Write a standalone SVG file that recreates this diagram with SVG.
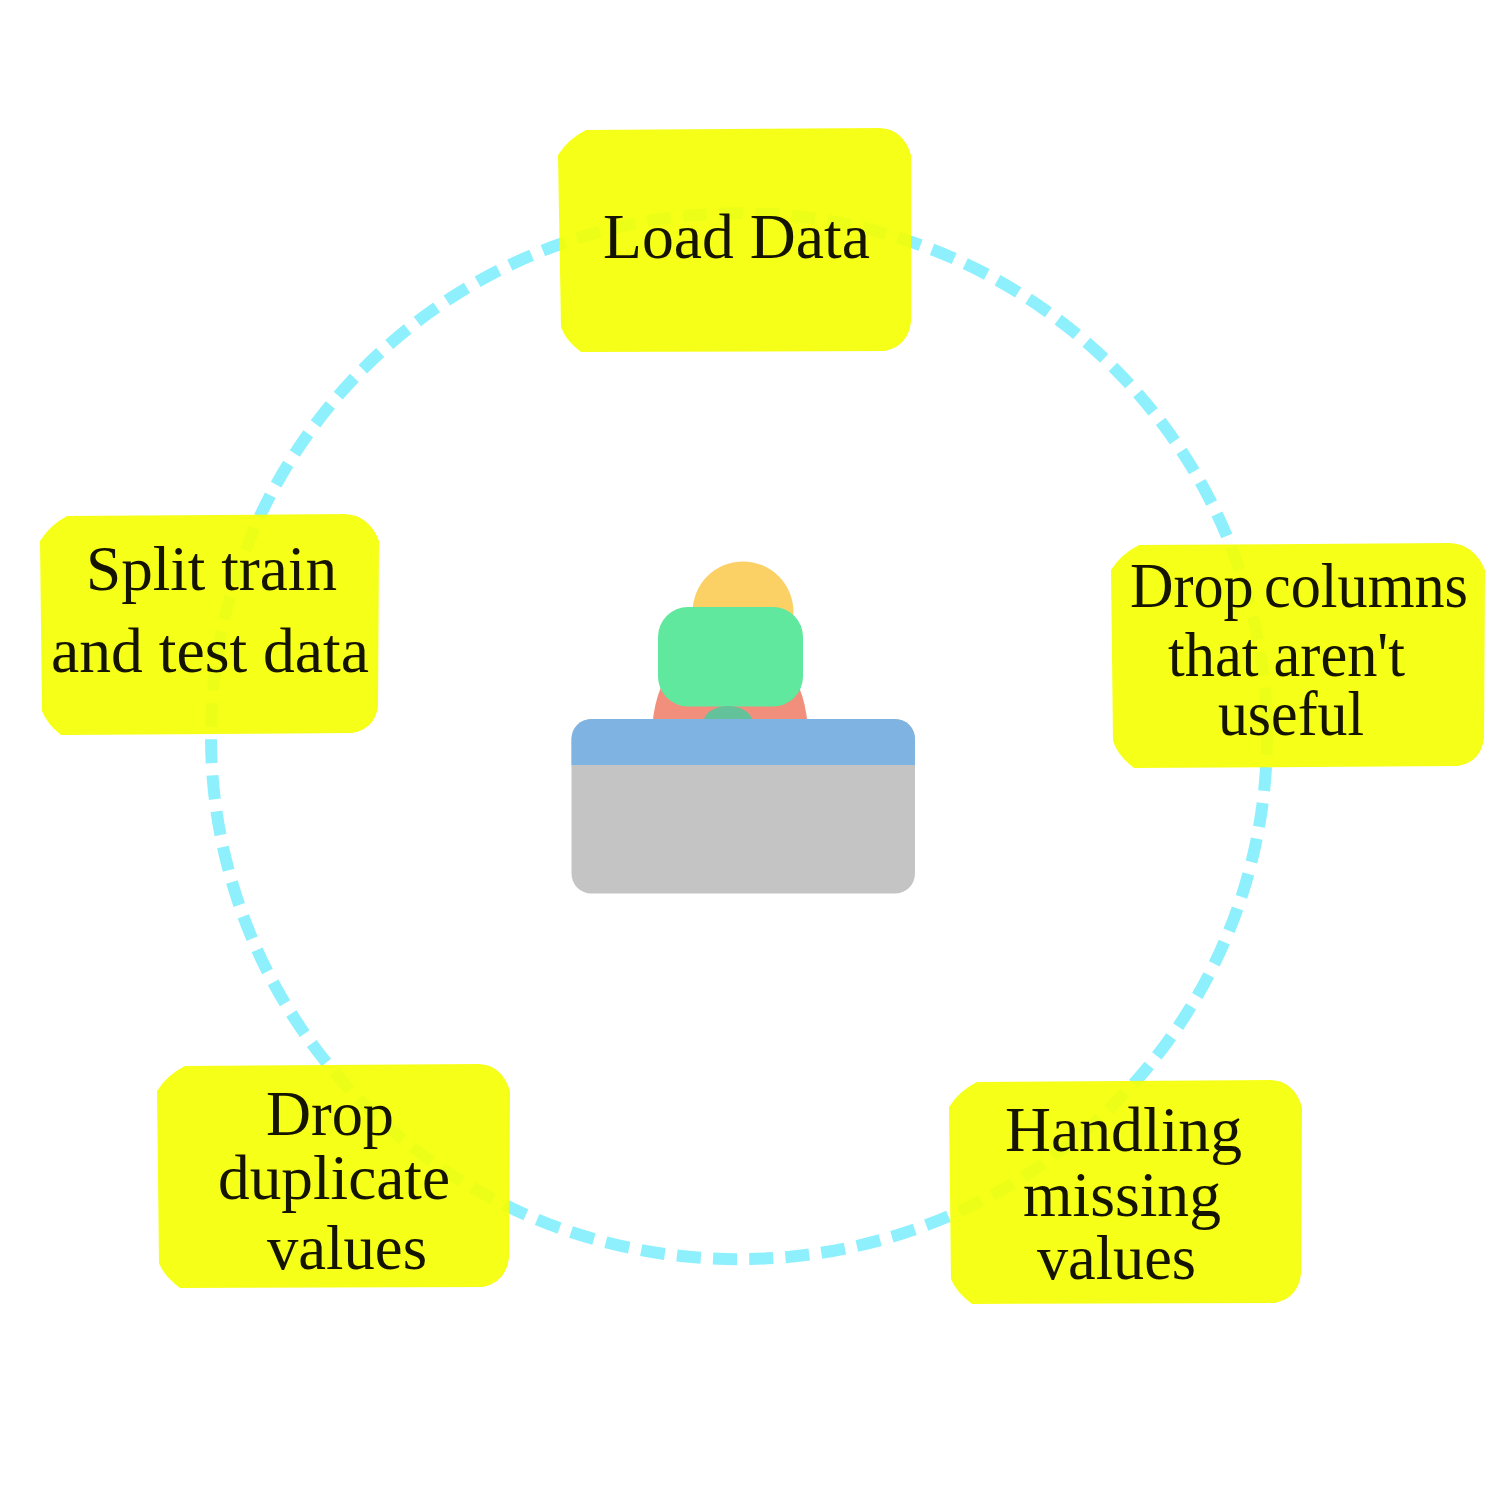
<svg xmlns="http://www.w3.org/2000/svg" width="1500" height="1500" viewBox="0 0 1500 1500">
<style>
.box{fill:#f5ff00;fill-opacity:.91}
text{font-family:"Liberation Serif","Times New Roman",serif;font-size:64px;fill:#141400}
.ring{fill:none;stroke:#8ef0fd;stroke-width:12}
#ring{stroke-dasharray:24 12.2}
</style>
<rect width="1500" height="1500" fill="#fff"/>
<g id="connectors">
<path id="ring" class="ring" d="M1266.07 767A528 523 0 1 1 1265.1 692"/>
<path class="ring" d="M1265.1 692A528 523 0 0 1 1266.65 755"/>
</g>
<g id="center">
<circle cx="743" cy="612" r="50.500" fill="#fbd065"/>
<ellipse cx="730" cy="735" rx="78" ry="103" fill="#f28f7c"/>
<rect x="658" y="607" width="145" height="99.500" rx="30" fill="#5fe89e"/>
<ellipse cx="728" cy="722" rx="24.500" ry="16" fill="#64c29a"/>
<rect x="571.500" y="719" width="343.500" height="174.500" rx="20" fill="#c4c4c4"/>
<path d="M571.500 765V739a20 20 0 0 1 20-20H895a20 20 0 0 1 20 20V765Z" fill="#7fb4e2"/>
</g>
<g id="n1"><path class="box" d="M586 130L880 128Q903 129 911 155L911 322Q908 346 885 351L581 352Q566 341 561 327L558 155Q568 139 586 130Z"/><text x="603" y="258" textLength="267" lengthAdjust="spacingAndGlyphs">Load Data</text></g>
<g id="n2"><path class="box" d="M1139 545L1450 543Q1474 544 1485 570L1484 738Q1481 762 1458 766L1134 768Q1118 756 1113 741L1111 570Q1121 554 1139 545Z"/><text x="1130" y="607" textLength="338" lengthAdjust="spacingAndGlyphs" word-spacing="-5">Drop columns</text><text x="1168" y="676" textLength="237" lengthAdjust="spacingAndGlyphs">that aren't</text><text x="1218" y="735" textLength="146" lengthAdjust="spacingAndGlyphs">useful</text></g>
<g id="n3"><path class="box" d="M977 1082L1271 1080Q1294 1081 1302 1107L1301 1274Q1298 1298 1275 1303L972 1304Q956 1292 951 1279L949 1107Q959 1091 977 1082Z"/><text x="1005" y="1151" textLength="237" lengthAdjust="spacingAndGlyphs">Handling</text><text x="1023" y="1216" textLength="198" lengthAdjust="spacingAndGlyphs">missing</text><text x="1037" y="1279" textLength="159" lengthAdjust="spacingAndGlyphs">values</text></g>
<g id="n4"><path class="box" d="M185 1066L479 1064Q502 1065 510 1091L509 1258Q506 1282 483 1287L180 1288Q164 1276 159 1263L157 1091Q167 1075 185 1066Z"/><text x="266" y="1135" textLength="128" lengthAdjust="spacingAndGlyphs">Drop</text><text x="218" y="1199" textLength="232" lengthAdjust="spacingAndGlyphs">duplicate</text><text x="267" y="1269" textLength="160" lengthAdjust="spacingAndGlyphs">values</text></g>
<g id="n5"><path class="box" d="M67 516L345 514Q369 515 379 541L378 706Q375 729 352 733L61 735Q47 724 42 711L40 541Q50 525 67 516Z"/><text x="86" y="590" textLength="251" lengthAdjust="spacingAndGlyphs">Split train</text><text x="51" y="672" textLength="318" lengthAdjust="spacingAndGlyphs">and test data</text></g>
</svg>
